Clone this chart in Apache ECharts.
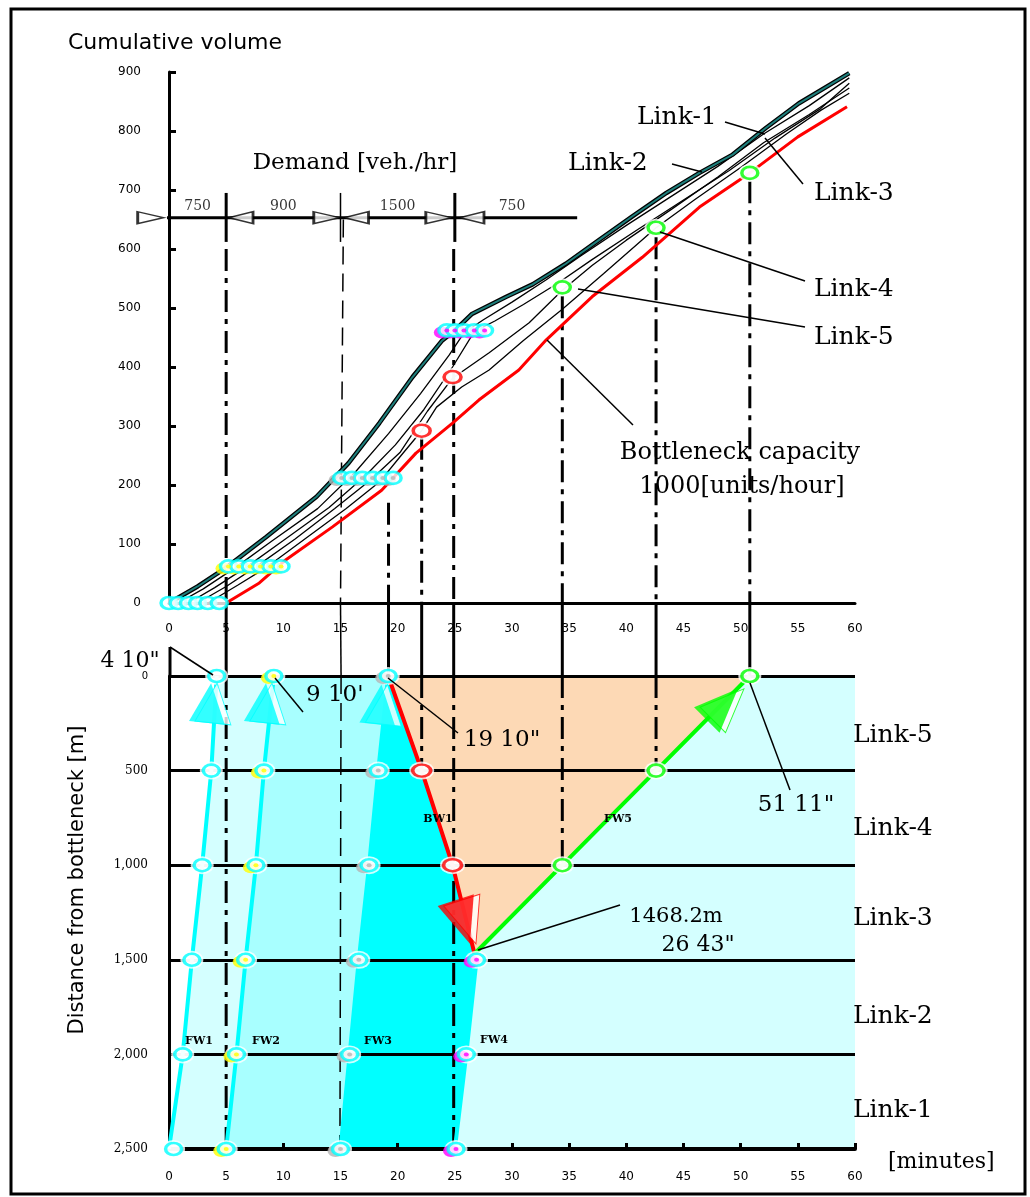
<!DOCTYPE html>
<html>
<head>
<meta charset="utf-8">
<script src="https://cdn.jsdelivr.net/npm/echarts@6.0.0/dist/echarts.min.js"></script>
<style>html,body{margin:0;padding:0;background:#fff;}#chart{width:1030px;height:1197px;}</style>
</head>
<body>
<div id="chart"></div>
<script>
// ================= DATA =================
const timeTicks = [0,5,10,15,20,25,30,35,40,45,50,55,60];
const volumeTicks = [0,100,200,300,400,500,600,700,800,900];
const distanceTicks = [0,500,1000,1500,2000,2500];

// demand profile
const demandBreaks = [0,5,15,25,35];
const demandRates = [750,900,1500,750];

// cumulative curves [minutes, vehicles]
const link1 = [[0,0],[2.5,28],[5,60],[8.5,112],[12.9,180],[15.7,237],[18.4,305],[21.3,383],[23.9,445],[25,462],[26.5,490],[29.5,519],[31.8,540],[34.7,575],[37.6,615],[40.5,655],[43.5,695],[46.4,729],[49.3,760],[52.2,805],[55.1,847],[59.5,898]];
const link2 = [[0.8,0],[3,24],[5.8,60],[9,105],[13,160],[16.3,222],[19.2,287],[22,355],[24.5,420],[25.8,458],[27.5,480],[30,510],[33,548],[36,588],[40,640],[44,690],[48,740],[52,795],[56,843],[59.5,890]];
const link3 = [[1.7,0],[4,26],[6.7,60],[10,106],[14,162],[17.2,216],[19.8,268],[22.3,328],[24.8,400],[26.7,460],[28.5,478],[31,506],[34,542],[37,582],[41,633],[45,683],[49,733],[53,788],[57,838],[59.5,881]];
const link4 = [[2.5,0],[5,28],[7.5,60],[11,108],[14.5,160],[17.6,208],[20.2,255],[22.6,325],[24.8,381],[28,424],[31.5,475],[34.4,530],[37,572],[40,615],[44,668],[48,722],[52,780],[56,828],[59.5,873]];
const link5 = [[3.4,0],[6,30],[8.5,60],[12,110],[15.5,160],[18.4,205],[20.3,250],[22.1,292],[23.4,332],[25.6,366],[28,395],[31,445],[34.4,498],[38,558],[42.6,636],[46,684],[50,738],[54,795],[57,835],[59.5,864]];
const bottleneck = [[5,0],[7.9,34],[10.2,73],[14.3,129],[18.6,191],[21.6,254],[24.8,305],[27.1,344],[30.6,395],[33,446],[37,519],[41.4,586],[46.4,671],[50.8,729],[55,790],[59.3,841]];

// passage markers on the cumulative curves
const row0Times = [0,0.8,1.7,2.5,3.4,4.4];         const row0Vol = 0;
const row1Times = [5.2,6.1,7.1,8.0,8.9,9.8];       const row1Vol = 62;
const row2Times = [15.1,16.0,16.9,17.8,18.7,19.6]; const row2Vol = 212;
const row3Times = [24.3,25.0,25.8,26.7,27.6];      const row3Vol = 462;
const redTop = [[22.1,292],[24.8,383]];
const greenTop = [[34.4,535],[42.6,636],[50.8,729]];

// waves in the time-space diagram [minutes, metres]
const fw1Line = [[0,2500],[1.2,2000],[2.0,1500],[2.9,1000],[3.7,500],[4.17,0]];
const fw2Line = [[5,2500],[5.9,2000],[6.7,1500],[7.6,1000],[8.3,500],[9.17,0]];
const fw3Line = [[15,2500],[15.8,2000],[16.6,1500],[17.5,1000],[18.3,500],[19.17,0]];
const fw4Line = [[25,2500],[26.0,2000],[26.9,1500],[26.72,1468]];
const bw1Line = [[19.17,0],[22.1,500],[24.8,1000],[26.72,1468]];
const fw5Line = [[26.72,1468],[34.4,1000],[42.6,500],[50.8,0]];
const fw1Rings = [[0.4,2500],[1.2,2000],[2.0,1500],[2.9,1000],[3.7,500],[4.17,0]];
const fw4Rings = [[25.1,2500],[26.0,2000],[26.9,1500]];
const bw1Rings = [[22.1,500],[24.8,1000]];
const fw5Rings = [[34.4,1000],[42.6,500],[50.8,0]];
const fwArrows = [[3.5,143],[8.3,143],[18.4,150]];
const bwArrow = [[25.7,1300]];
const fw5Arrow = [[48.4,150]];

// dash-dot projection lines
const topDrops = [[5,600],[19.2,170],[22.1,280],[24.9,600],[34.4,520],[42.6,620],[50.8,715]];
const gapDrops = [5,19.2,22.1,24.9,34.4,42.6,50.8];
const botDrops = [[5,2500],[22.1,500],[24.9,2500],[34.4,1000],[42.6,500]];

// ================= LAYOUT =================
const gTop = {left:169, right:175, top:72, height:531};
const gBot = {left:169, right:175, top:676, height:473};
const vMax = volumeTicks[volumeTicks.length-1];
const dMax = distanceTicks[distanceTicks.length-1];
const gapM = (gBot.top - gTop.top - gTop.height) / gBot.height * dMax;
const demandLevel = 653, demandLabelLevel = 672, demandTick = [612,695];

const S = [];
function L(gi, data, ls, z, extra){
  S.push(Object.assign({type:'line', xAxisIndex:gi, yAxisIndex:gi, data:data, symbol:'none', showSymbol:false,
    silent:true, clip:false, lineStyle:Object.assign({color:'#000', width:1.3}, ls), z:z||3}, extra||{}));
}
function P(gi, data, size, style, z, extra){
  S.push(Object.assign({type:'scatter', xAxisIndex:gi, yAxisIndex:gi, data:data, symbol:'circle', symbolSize:size,
    silent:true, clip:false, itemStyle:style, z:z||5}, extra||{}));
}
const DD = [22,7,5,7];

// ---- fills (bottom) ----
const fills = [
  {pts:[[0,0],[60,0],[60,2500],[0,2500]], color:'#d4ffff'},
  {pts:[[0,0]].concat(fw1Line.slice().reverse()), color:'#ffffff'},
  {pts:fw2Line.concat(fw3Line.slice().reverse()), color:'#a8ffff'},
  {pts:fw3Line.concat(bw1Line.slice(1)).concat(fw4Line.slice(0,-1).reverse()), color:'#00ffff'},
  {pts:bw1Line.concat(fw5Line.slice(1)), color:'#fdd9b5'}
];
S.push({type:'custom', xAxisIndex:1, yAxisIndex:1, z:0, silent:true, clip:false,
  data: fills.map((f,i)=>[f.pts[0][0], f.pts[0][1], i]), encode:{x:0,y:1},
  renderItem:(p, api)=>{ const f = fills[p.dataIndex];
    return {type:'polygon', shape:{points:f.pts.map(q=>api.coord(q))}, style:{fill:f.color}}; }});

// ---- top: projection lines & demand axis ----
topDrops.forEach(d=>L(0, [[d[0],d[1]],[d[0],0]], {width:3, type:DD}, 2));
L(0, [[15.25,650],[15.0,0]], {width:1.5, type:[18,9]}, 2);
[demandBreaks[1],demandBreaks[2],demandBreaks[3]].forEach((t,i)=>L(0, [[t,demandTick[0]],[t,demandTick[1]]], {width: i===1?1.5:3}, 3));
L(0, [[-5.4,demandLevel],[35.7,demandLevel]], {width:3}, 3);
const arrR = [[-1.6,demandLevel],[13.8,demandLevel],[23.6,demandLevel]];
const arrLft = [[6.3,demandLevel],[16.4,demandLevel],[26.5,demandLevel]];
S.push({type:'scatter', xAxisIndex:0, yAxisIndex:0, data:arrR, symbol:'triangle', symbolSize:[12,26], symbolRotate:-90, clip:false, silent:true, z:4, itemStyle:{color:'#fff', borderColor:'#000', borderWidth:2}});
S.push({type:'scatter', xAxisIndex:0, yAxisIndex:0, data:arrLft, symbol:'triangle', symbolSize:[12,24], symbolRotate:90, clip:false, silent:true, z:4, itemStyle:{color:'#fff', borderColor:'#000', borderWidth:2}});
S.push({type:'scatter', xAxisIndex:0, yAxisIndex:0, symbolSize:0, clip:false, silent:true, z:5,
  data: demandRates.map((r,i)=>[(demandBreaks[i]+demandBreaks[i+1])/2, demandLabelLevel, r]),
  label:{show:true, position:'inside', formatter:p=>String(p.value[2]), color:'#000', fontFamily:'DejaVu Serif', fontSize:14}});

// ---- top: cumulative curves ----
[link2, link3, link4, link5].forEach(c=>L(0, c, {width:1.3, color:'#000'}, 4));
L(0, link1, {width:4.5, color:'#000'}, 4);
L(0, link1, {width:2, color:'#1f7f7c'}, 4);
L(0, bottleneck, {width:3, color:'#ff0000'}, 4);

// ---- top: markers ----
function ringRow(gi, pts, ring, shadow, dot, size, halo){
  if (halo) P(gi, pts, [size[0]+7, size[1]+6], {color:'#fff'}, 6);
  if (shadow) P(gi, pts, size, {color:shadow}, 7, {symbolOffset:[-5,2]});
  P(gi, pts, size, {color:'#fff', borderColor:ring, borderWidth:3}, 8);
  if (dot) P(gi, pts, [5,4], {color:dot}, 9);
}
ringRow(0, row0Times.map(t=>[t,row0Vol]), '#00ffff', null, null, [16,12], false);
ringRow(0, row1Times.map(t=>[t,row1Vol]), '#00ffff', '#ffff00', '#ffff00', [16,12], false);
ringRow(0, row2Times.map(t=>[t,row2Vol]), '#00ffff', '#b4b4b4', '#b4b4b4', [16,12], false);
ringRow(0, row3Times.map(t=>[t,row3Vol]), '#00ffff', '#ff00ff', '#ff00ff', [16,12], false);
ringRow(0, redTop, '#ff0000', null, null, [17,12], true);
ringRow(0, greenTop, '#00ff00', null, null, [16,12], true);

// ---- gap + bottom projection lines ----
gapDrops.forEach(t=>L(1, [[t,-gapM],[t,0]], {width:3}, 3));
L(1, [[15.0,-gapM],[15.05,0]], {width:1.5}, 3);
botDrops.forEach(d=>L(1, [[d[0],0],[d[0],d[1]]], {width:3, type:DD}, 3));
L(1, [[15.05,0],[14.95,2500]], {width:1.5, type:[18,9]}, 3);

// ---- bottom: waves ----
[fw1Line, fw2Line, fw3Line, fw4Line].forEach(w=>L(1, w, {width:4, color:'#00ffff'}, 4));
L(1, bw1Line, {width:4, color:'#ff0000'}, 4);
L(1, fw5Line, {width:4, color:'#00ff00'}, 4);

ringRow(1, fw1Rings, '#00ffff', null, null, [16,12], true);
ringRow(1, fw2Line, '#00ffff', '#ffff00', '#ffff00', [16,12], true);
ringRow(1, fw3Line, '#00ffff', '#b4b4b4', '#b4b4b4', [16,12], true);
ringRow(1, fw4Rings, '#00ffff', '#ff00ff', '#ff00ff', [16,12], true);
ringRow(1, bw1Rings, '#ff0000', null, null, [18,12], true);
ringRow(1, fw5Rings, '#00ff00', null, null, [16,12], true);

function arrow(data, color, rot, size){
  S.push({type:'scatter', xAxisIndex:1, yAxisIndex:1, data:data, symbol:'triangle', symbolSize:size, symbolRotate:rot,
    symbolOffset:[6,0], clip:false, silent:true, z:9, itemStyle:{color:'#fff', borderColor:color, borderWidth:1}});
  S.push({type:'scatter', xAxisIndex:1, yAxisIndex:1, data:data, symbol:'triangle', symbolSize:size, symbolRotate:rot,
    clip:false, silent:true, z:10, itemStyle:{color:color}});
}
arrow(fwArrows, '#00ffff', -6, [36,40]);
arrow(bwArrow, '#ff0000', 198, [38,46]);
arrow(fw5Arrow, '#00ff00', -45, [36,44]);

// ================= ANNOTATIONS =================
const G = [];
function T(x,y,s,size,fam,align,weight){
  G.push({type:'text', x:x, y:y, z:50, style:{text:s, fill:'#000', font:(weight||'normal')+' '+size+'px "'+(fam||'DejaVu Serif')+'"', textAlign:align||'left', textVerticalAlign:'middle'}});
}
function Ln(x1,y1,x2,y2,w){
  G.push({type:'line', z:49, shape:{x1:x1,y1:y1,x2:x2,y2:y2}, style:{stroke:'#000', lineWidth:w||1.5}});
}
G.push({type:'rect', z:60, shape:{x:11,y:9,width:1014,height:1185}, style:{fill:'none', stroke:'#000', lineWidth:3}});
T(68,43,'Cumulative volume',22,'DejaVu Sans');
T(355,163,'Demand [veh./hr]',23,'DejaVu Serif','center');
T(637,117,'Link-1',25); T(568,163,'Link-2',25);
T(814,193,'Link-3',25); T(814,289,'Link-4',25); T(814,337,'Link-5',25);
Ln(725,122,765,134); Ln(672,164,702,172); Ln(803,184,765,138);
Ln(805,281,660,232); Ln(805,327,578,289); Ln(633,425,547,340);
T(740,453,'Bottleneck capacity',24,'DejaVu Serif','center');
T(742,487,'1000[units/hour]',24,'DejaVu Serif','center');
T(130,661,'4 10"',22,'DejaVu Serif','center');
Ln(170,647,213,675); Ln(170,647,170,676,3);
T(306,695,"9 10'",23);
Ln(275,678,303,712);
T(502,740,'19 10"',23,'DejaVu Serif','center');
Ln(388,678,458,733);
T(796,805,'51 11"',23,'DejaVu Serif','center');
Ln(750,683,790,790);
T(676,917,'1468.2m',21,'DejaVu Serif','center');
T(698,945,'26 43"',22,'DejaVu Serif','center');
Ln(478,950,620,905);
T(438,819,'BW1',11,'DejaVu Serif','center','bold');
T(618,819,'FW5',11,'DejaVu Serif','center','bold');
T(199,1041,'FW1',11,'DejaVu Serif','center','bold');
T(266,1041,'FW2',11,'DejaVu Serif','center','bold');
T(378,1041,'FW3',11,'DejaVu Serif','center','bold');
T(494,1040,'FW4',11,'DejaVu Serif','center','bold');
T(853,735,'Link-5',25); T(853,828,'Link-4',25); T(853,918,'Link-3',25);
T(853,1016,'Link-2',25); T(853,1110,'Link-1',25);
T(888,1162,'[minutes]',22);
G.push({type:'text', x:78, y:880, rotation:Math.PI/2, z:50, style:{text:'Distance from bottleneck [m]', fill:'#000', font:'21px "DejaVu Sans"', textAlign:'center', textVerticalAlign:'middle'}});

// ================= OPTION =================
const lbl = {color:'#000', fontFamily:'DejaVu Sans', fontSize:12};
const option = {
  animation:false,
  backgroundColor:'#fff',
  grid:[Object.assign({}, gTop), Object.assign({}, gBot)],
  xAxis:[
    {type:'value', gridIndex:0, min:timeTicks[0], max:timeTicks[timeTicks.length-1], interval:timeTicks[1]-timeTicks[0], z:2,
      axisLine:{show:true, onZero:false, lineStyle:{color:'#000', width:3}}, axisTick:{show:false}, splitLine:{show:false},
      axisLabel:Object.assign({margin:20}, lbl)},
    {type:'value', gridIndex:1, min:timeTicks[0], max:timeTicks[timeTicks.length-1], interval:timeTicks[1]-timeTicks[0], z:2,
      axisLine:{show:true, onZero:false, lineStyle:{color:'#000', width:4}}, axisTick:{show:true, inside:true, length:6, lineStyle:{color:'#000', width:3}},
      splitLine:{show:false}, axisLabel:Object.assign({margin:22}, lbl)}
  ],
  yAxis:[
    {type:'value', gridIndex:0, min:volumeTicks[0], max:vMax, interval:volumeTicks[1]-volumeTicks[0], z:2,
      axisLine:{show:true, onZero:false, lineStyle:{color:'#000', width:3}}, axisTick:{show:true, inside:true, length:7, lineStyle:{color:'#000', width:3}},
      splitLine:{show:false}, axisLabel:Object.assign({margin:28}, lbl, {fontSize:12})},
    {type:'value', gridIndex:1, min:distanceTicks[0], max:dMax, interval:distanceTicks[1]-distanceTicks[0], inverse:true, z:2,
      axisLine:{show:true, onZero:false, lineStyle:{color:'#000', width:3}}, axisTick:{show:false},
      splitLine:{show:true, lineStyle:{color:'#000', width:3}},
      axisLabel:Object.assign({margin:21, formatter:v=> v===0 ? '{s|0}' : v.toLocaleString('en-US'), rich:{s:{fontSize:10, fontFamily:'DejaVu Sans', color:'#000'}}}, lbl, {fontFamily:'DejaVu Serif'})}
  ],
  series:S,
  graphic:G
};
const chart = echarts.init(document.getElementById('chart'));
chart.setOption(option);
</script>
</body>
</html>
